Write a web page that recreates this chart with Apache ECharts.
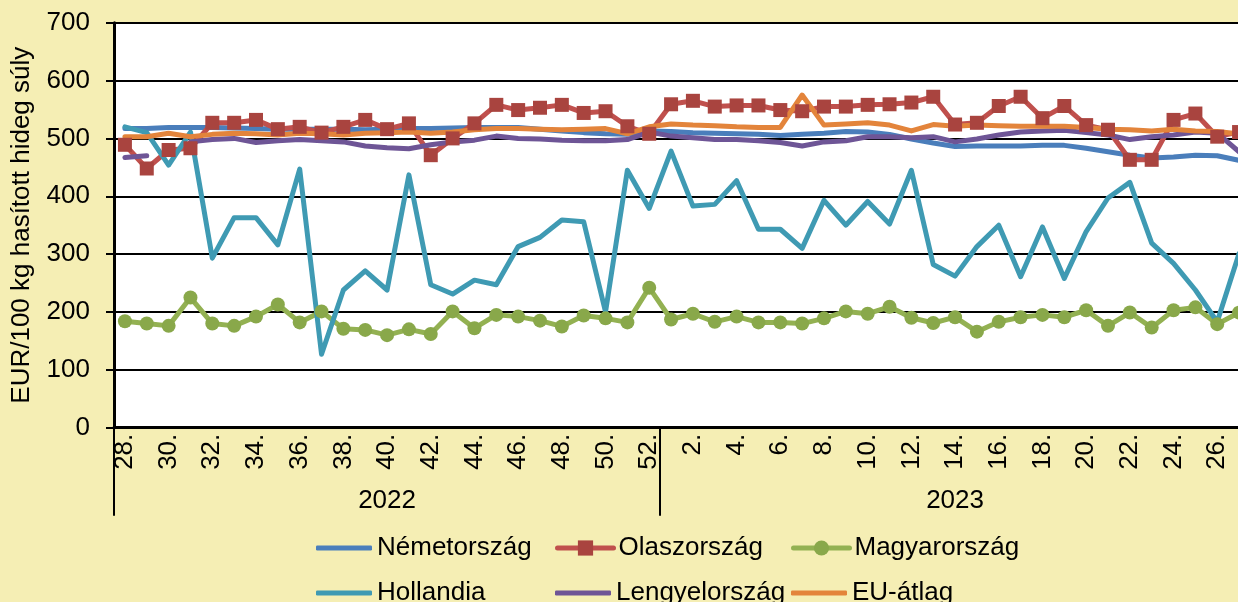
<!DOCTYPE html>
<html>
<head>
<meta charset="utf-8">
<script src="https://cdn.jsdelivr.net/npm/echarts@6/dist/echarts.min.js"></script>
<style>
html,body{margin:0;padding:0;background:#F5EEB4;}
#chart{width:1238px;height:602px;}
</style>
</head>
<body>
<div id="chart"></div>
<script>
var weeks2022 = ['28.','29.','30.','31.','32.','33.','34.','35.','36.','37.','38.','39.','40.','41.','42.','43.','44.','45.','46.','47.','48.','49.','50.','51.','52.'];
var weeks2023 = ['1.','2.','3.','4.','5.','6.','7.','8.','9.','10.','11.','12.','13.','14.','15.','16.','17.','18.','19.','20.','21.','22.','23.','24.','25.','26.','27.'];
var years = ['2022','2023'];
var yTicks = [0,100,200,300,400,500,600,700];
var yTitle = 'EUR/100 kg hasított hideg súly';

var nemetorszag = [517,517,519,519,519,518,517,516,516,516,516,515,516,517,517,518,519,519,519,516,513,510,508,507,513,
  512,510,509,508,507,505,507,509,512,511,507,499,492,486,487,487,487,488,488,483,477,471,466,468,471,470,462];
var olaszorszag = [489,448,480,483,527,527,532,516,520,510,520,532,516,526,471,500,526,558,549,553,558,544,547,521,508,
  559,565,555,557,557,549,547,555,555,558,559,562,572,524,527,556,572,535,556,523,515,463,463,532,543,503,511];
var magyarorszag = [184,180,176,225,180,176,192,213,182,201,171,169,160,170,162,201,172,195,192,185,175,194,189,182,242,
  187,197,183,192,182,182,180,189,201,197,209,190,181,191,166,183,191,195,191,203,176,199,173,203,208,179,199];
var hollandia = [520,510,454,511,293,363,363,316,447,127,238,271,238,437,247,231,255,247,313,329,359,356,200,445,379,
  478,383,386,427,343,343,310,393,350,391,352,445,282,262,313,350,261,347,258,339,397,424,319,284,238,183,301];
var lengyelorszag = [467,470,null,494,498,500,493,496,498,496,494,487,484,482,489,494,497,504,500,499,497,496,496,498,511,
  504,501,498,498,496,493,487,494,496,503,503,501,503,494,499,506,511,513,514,510,506,498,503,506,511,509,477];
var euAtlag = [503,503,509,503,507,509,508,506,509,508,506,509,510,511,509,511,515,517,517,516,515,516,517,508,520,
  525,523,522,520,519,519,575,523,525,527,523,513,524,521,523,522,521,521,521,519,516,515,513,516,513,512,508];

var seriesNames = ['Németország','Olaszország','Magyarország','Hollandia','Lengyelország','EU-átlag'];
var seriesColors = ['#4A7EBB','#C0504D','#93B152','#3F9AB3','#6E5596','#E3843B'];
var markerColors = [null,'#A9443F','#89A84A',null,null,null];
var markerSymbols = ['none','rect','circle','none','none','none'];
var seriesData = [nemetorszag, olaszorszag, magyarorszag, hollandia, lengyelorszag, euAtlag];

var categories = weeks2022.concat(weeks2023);
var n2022 = weeks2022.length;
var yearCenterIdx = [Math.floor((n2022 - 1) / 2), n2022 + Math.floor((weeks2023.length - 1) / 2)];

var FONT = '"Liberation Sans", Arial, sans-serif';
var chart = echarts.init(document.getElementById('chart'), null, {renderer: 'canvas'});

var LW = 5;
var series = seriesNames.map(function (name, i) {
  return {
    name: name, type: 'line', data: seriesData[i], xAxisIndex: 0, yAxisIndex: 0,
    symbol: markerSymbols[i], symbolSize: 14, showSymbol: markerSymbols[i] !== 'none',
    connectNulls: false, animation: false,
    lineStyle: {color: seriesColors[i], width: LW, join: 'round', cap: 'round'},
    itemStyle: {color: markerColors[i] || seriesColors[i]}
  };
});

var legendLeft = [311, 550, 786];
var legendTop = [530, 575];
var legends = seriesNames.map(function (name, i) {
  var col = i % 3, row = Math.floor(i / 3);
  var hasMarker = markerSymbols[i] !== 'none';
  return {
    data: [hasMarker ? {name: name} : {name: name, icon: 'roundRect'}],
    left: legendLeft[col], top: legendTop[row],
    itemWidth: 56, itemHeight: hasMarker ? 19 : LW, itemGap: 0,
    selectedMode: false,
    textStyle: {fontSize: 26, fontFamily: FONT, color: '#000'},
    lineStyle: {width: LW}
  };
});

var option = {
  backgroundColor: '#F5EEB4',
  animation: false,
  textStyle: {fontFamily: FONT, color: '#000'},
  grid: {left: 114, width: 1136, top: 22.7, bottom: 174.3, show: true, backgroundColor: '#ffffff', borderWidth: 0,
         containLabel: false, outerBoundsMode: 'none'},
  legend: legends,
  xAxis: [
    {
      type: 'category', data: categories, boundaryGap: true, position: 'bottom',
      axisLine: {show: true, lineStyle: {color: '#000', width: 3}},
      axisTick: {show: false},
      axisLabel: {interval: 1, rotate: 90, fontSize: 26, color: '#000', fontFamily: FONT, margin: 6},
      splitLine: {show: false}
    },
    {
      type: 'category', data: categories, boundaryGap: true, position: 'bottom',
      axisLine: {show: false},
      axisTick: {show: true, length: 88, lineStyle: {color: '#000', width: 2},
        interval: function (idx) { return idx === 0 || idx === n2022; }},
      axisLabel: {show: true, fontSize: 26, color: '#000', fontFamily: FONT, margin: 60,
        interval: function (idx) { return idx === yearCenterIdx[0] || idx === yearCenterIdx[1]; },
        formatter: function (v, idx) { return idx === yearCenterIdx[0] ? years[0] : (idx === yearCenterIdx[1] ? years[1] : ''); }},
      splitLine: {show: false}
    }
  ],
  yAxis: {
    type: 'value', min: yTicks[0], max: yTicks[yTicks.length - 1], interval: 100,
    name: yTitle, nameLocation: 'middle', nameRotate: 90, nameGap: 79,
    nameTextStyle: {fontSize: 26, color: '#000', fontFamily: FONT},
    axisLine: {show: true, lineStyle: {color: '#000', width: 3}},
    axisTick: {show: true, length: 8, inside: false, lineStyle: {color: '#000', width: 2}},
    axisLabel: {fontSize: 26, color: '#000', fontFamily: FONT, margin: 24},
    splitLine: {show: true, lineStyle: {color: '#000', width: 2}}
  },
  series: series
};
chart.setOption(option);
</script>
</body>
</html>
